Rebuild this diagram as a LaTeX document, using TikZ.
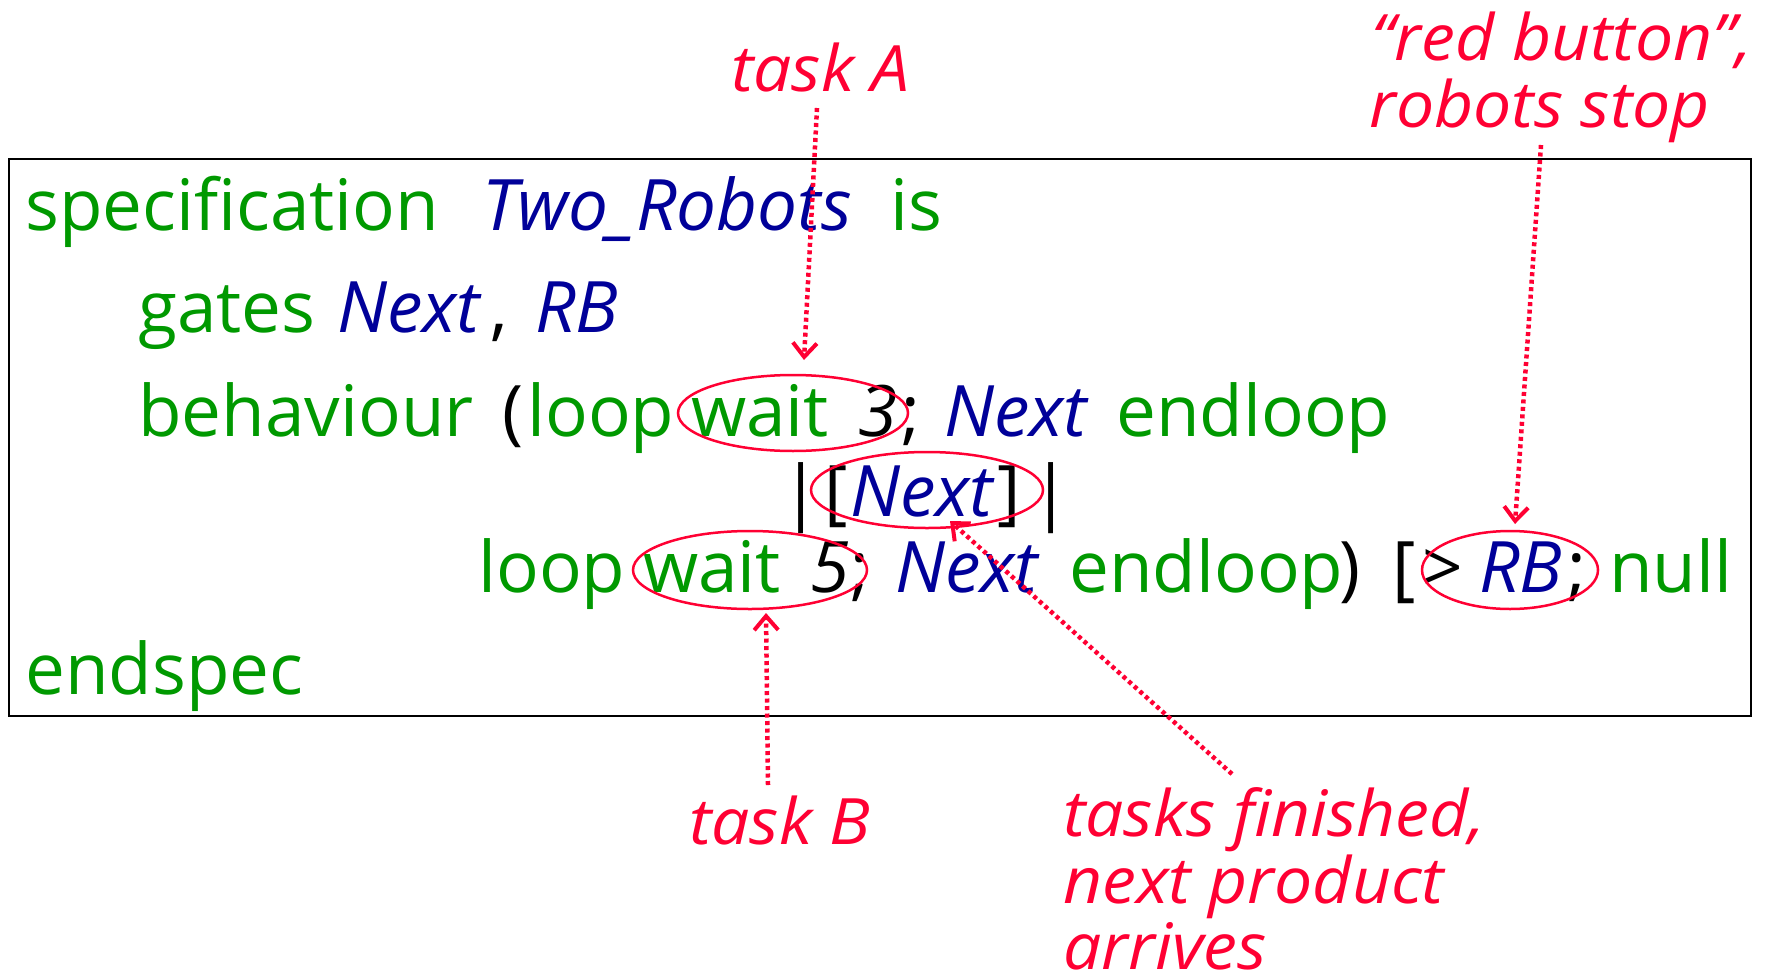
\documentclass[tikz,border=0pt]{standalone}
\usepackage{fontspec}
\setmainfont{Open Sans}
\newfontfamily\notefont{Open Sans}[FakeStretch=1.06]
\usetikzlibrary{arrows.meta,shapes.geometric}
\definecolor{kwgreen}{RGB}{0,153,0}
\definecolor{idblue}{RGB}{0,0,153}
\definecolor{notered}{RGB}{255,0,51}
\tikzset{
  code/.style={anchor=base west, inner sep=0pt, font=\fontsize{71}{80}\selectfont},
  kw/.style={code, text=kwgreen},
  ident/.style={code, text=idblue, font=\fontsize{71}{80}\selectfont\itshape},
  sym/.style={code, text=black},
  num/.style={code, text=black, font=\fontsize{71}{80}\selectfont\itshape},
  note/.style={anchor=base west, inner sep=0pt, text=notered, font=\notefont\fontsize{64}{68}\selectfont\itshape},
  ring/.style={draw=notered, line width=2.5pt, ellipse, inner sep=0pt},
  pointer/.style={draw=notered, line width=4.5pt, dash pattern=on 4pt off 3.5pt,
    -{Straight Barb[length=14pt,width=24pt,line width=4pt]}},
}
\begin{document}
\begin{tikzpicture}[x=1pt,y=-1pt]
\useasboundingbox (0,0) rectangle (1777,977);
% frame round the specification
\draw[line width=2.5pt] (9,159) rectangle (1751,716);

% line 1
\node[kw] (l1a) at (25,230) {specification};
\node[ident] (l1b) at (482,230) {Two\_Robots};
\node[kw] (l1c) at (890,230) {is};
% line 2
\node[kw] (l2a) at (138,332) {gates};
\node[ident] (l2b) at (337,332) {Next};
\node[sym] (l2c) at (490,332) {,};
\node[ident] (l2d) at (535,332) {RB};
% line 3
\node[kw] (l3a) at (138,436) {behaviour};
\node[sym] (l3b) at (502,436) {(};
\node[kw] (l3c) at (527,436) {loop};
\node[kw] (l3d) at (691,436) {wait};
\node[num] (l3e) at (858,436) {3};
\node[sym] (l3f) at (901,436) {;};
\node[ident] (l3g) at (944,436) {Next};
\node[kw] (l3h) at (1116,436) {endloop};
% line 4
\node[sym] (l4a) at (781,516) {|};
\node[sym] (l4b) at (824,516) {[};
\node[ident] (l4c) at (850,516) {Next};
\node[sym] (l4d) at (997,516) {]};
\node[sym] (l4e) at (1031,516) {|};
% line 5
\node[kw] (l5a) at (478,592) {loop};
\node[kw] (l5b) at (643,592) {wait};
\node[num] (l5c) at (810,592) {5};
\node[sym] (l5d) at (850,592) {;};
\node[ident] (l5e) at (895,592) {Next};
\node[kw] (l5f) at (1069,592) {endloop};
\node[sym] (l5g) at (1339,592) {)};
\node[sym] (l5h) at (1392,592) {[};
\node[sym] (l5i) at (1422,592) {>};
\node[ident] (l5j) at (1479,592) {RB};
\node[sym] (l5k) at (1567,592) {;};
\node[kw] (l5l) at (1609,592) {null};
% line 6
\node[kw] (l6a) at (25,694) {endspec};

% rings
\node[ring, minimum width=230pt, minimum height=76pt] (ringA) at (793,413) {};
\node[ring, minimum width=232pt, minimum height=76pt] (ringN) at (927,490) {};
\node[ring, minimum width=234pt, minimum height=78pt] (ringB) at (750,570) {};
\node[ring, minimum width=176pt, minimum height=78pt] (ringR) at (1510,570) {};

% annotations
\node[note] (noteA) at (731,91) {task A};
\node[note] (noteR1) at (1371,60) {“red button”,};
\node[note] (noteR2) at (1369,127) {robots stop};
\node[note] (noteB) at (689,844) {task B};
\node[note] (noteF1) at (1063,836) {tasks finished,};
\node[note] (noteF2) at (1063,903) {next product};
\node[note] (noteF3) at (1063,969) {arrives};

% pointer ends
\coordinate (pA0) at (817,108);
\coordinate (pA1) at (804,360);
\coordinate (pR0) at (1541,145);
\coordinate (pR1) at (1515,524);
\coordinate (pB0) at (768,785);
\coordinate (pB1) at (766,613);
\coordinate (pF0) at (1232,774);
\coordinate (pF1) at (950,521);

\draw[pointer] (pA0) -- (pA1);
\draw[pointer] (pR0) -- (pR1);
\draw[pointer] (pB0) -- (pB1);
\draw[pointer] (pF0) -- (pF1);
\end{tikzpicture}
\end{document}
